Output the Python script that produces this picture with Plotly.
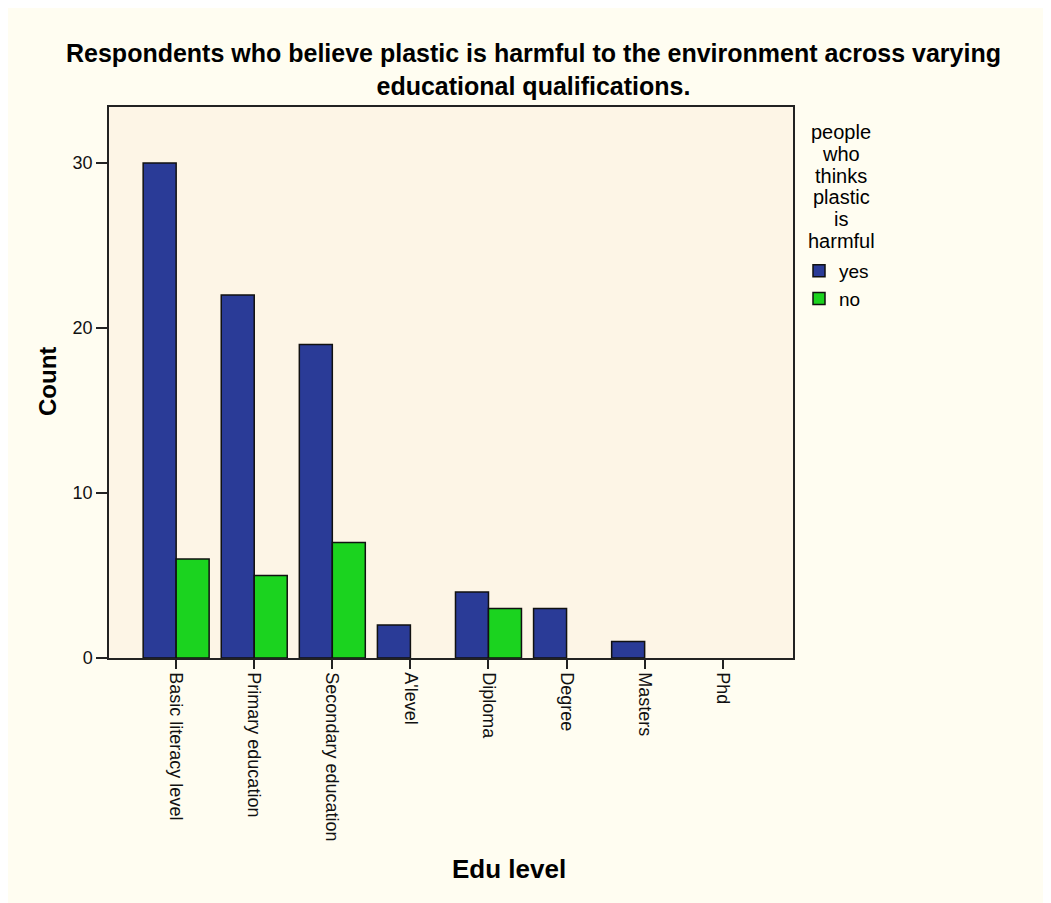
import plotly.graph_objects as go

categories = ["Basic literacy level", "Primary education", "Secondary education", "A'level",
              "Diploma", "Degree", "Masters", "Phd"]
yes_counts = [30, 22, 19, 2, 4, 3, 1, 0]
no_counts = [6, 5, 7, 0, 3, 0, 0, 0]
y_ticks = [0, 10, 20, 30]
title_lines = ["Respondents who believe plastic is harmful to the environment across varying",
               "educational qualifications."]
legend_title_words = ["people", "who", "thinks", "plastic", "is", "harmful"]

BLUE = "#2A3B97"
GREEN = "#1BD31F"
PAGE_BG = "#FFFDF1"
PLOT_BG = "#FDF5E6"
LINE = "#222222"
FONT = "Liberation Sans, Arial, sans-serif"

# plot area in page pixels (page has an 8px body offset)
PL, PR, PT, PB = 109, 793, 107, 658
def px_x(x):
    return (x - PL) / (PR - PL)
def px_y(y):
    return (PB - y) / (PB - PT)

def outline(vals):
    return [1.5 if v > 0 else 0 for v in vals]

fig = go.Figure()
fig.add_trace(go.Bar(x=categories, y=yes_counts, name="yes",
                     marker=dict(color=BLUE, line=dict(color="#111111", width=outline(yes_counts)))))
fig.add_trace(go.Bar(x=categories, y=no_counts, name="no",
                     marker=dict(color=GREEN, line=dict(color="#111111", width=outline(no_counts)))))

annotations = []
annotations.append(dict(text="<b>" + "<br>".join(title_lines) + "</b>", xref="paper", yref="paper",
                        x=px_x(533), y=px_y(70), xanchor="center", yanchor="middle",
                        align="center", showarrow=False, borderpad=0,
                        font=dict(size=25, family=FONT, color="black")))

for i, w in enumerate(legend_title_words):
    annotations.append(dict(text=w, xref="paper", yref="paper", x=px_x(841),
                            y=px_y(132 + 21.8 * i), xanchor="center", yanchor="middle",
                            showarrow=False, borderpad=0,
                            font=dict(size=20, family=FONT, color="black")))

annotations.append(dict(text="<b>Edu level</b>", xref="paper", yref="paper",
                        x=px_x(509), y=px_y(869), xanchor="center", yanchor="middle",
                        showarrow=False, font=dict(size=26, family=FONT, color="black")))
annotations.append(dict(text="<b>Count</b>", xref="paper", yref="paper", textangle=-90,
                        x=px_x(47), y=px_y(382), xanchor="center", yanchor="middle",
                        showarrow=False, font=dict(size=24, family=FONT, color="black")))

fig.update_layout(
    width=1051, height=903,
    paper_bgcolor=PAGE_BG, plot_bgcolor=PLOT_BG,
    font=dict(family=FONT, color="black", size=18),
    margin=dict(l=PL - 8, r=1051 - (PR - 8), t=PT - 8, b=903 - (PB - 8), pad=0),
    barmode="group", bargap=0.155, bargroupgap=0,
    xaxis=dict(type="category", range=[-0.86, 7.90], tickangle=90,
               ticks="outside", ticklen=9, tickwidth=1.5, tickcolor=LINE,
               showline=True, linecolor=LINE, linewidth=1.5, mirror=True,
               showgrid=False, tickfont=dict(size=18, color="#111111")),
    yaxis=dict(range=[0, 33.4], tickvals=y_ticks, ticks="outside", ticklen=11,
               tickwidth=1.5, tickcolor=LINE, showline=True, linecolor=LINE,
               linewidth=1.5, mirror=True, showgrid=False, zeroline=False,
               tickfont=dict(size=18, color="#111111")),
    legend=dict(x=px_x(799), xanchor="left", y=px_y(252), yanchor="top",
                bgcolor="rgba(0,0,0,0)", font=dict(size=19),
                itemwidth=30, tracegroupgap=0),
    annotations=annotations,
)

fig.write_html("out.html")
